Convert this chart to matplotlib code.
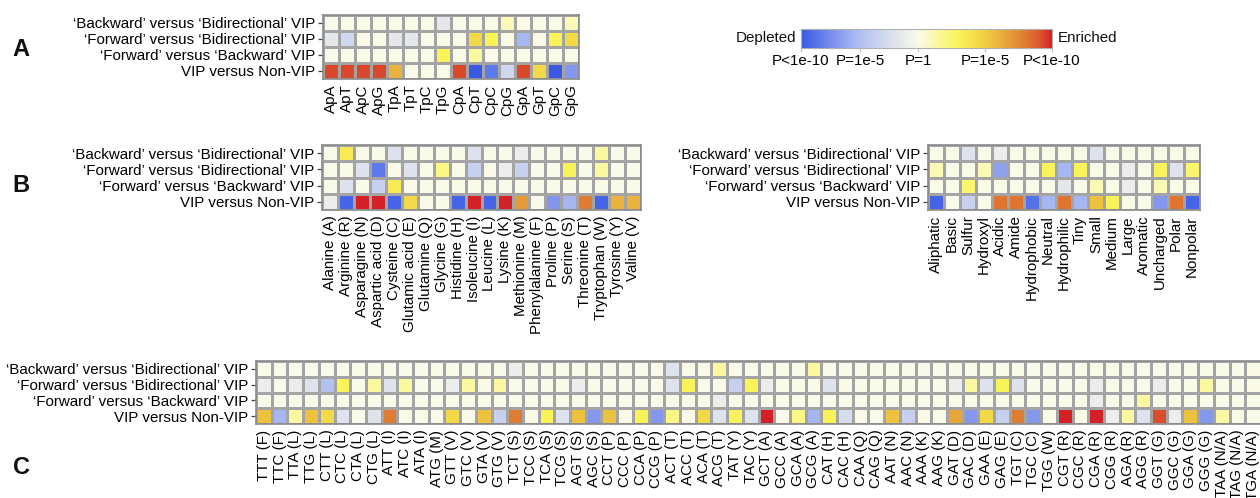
import numpy as np
import matplotlib.pyplot as plt
from matplotlib.colors import LinearSegmentedColormap, FuncNorm

plt.rcParams['font.family'] = ['Liberation Sans', 'DejaVu Sans']
plt.rcParams['font.size'] = 10.9
plt.rcParams['text.color'] = '#111111'

# comparison rows (top to bottom)
comparisons = ['\u2018Backward\u2019 versus \u2018Bidirectional\u2019 VIP',
               '\u2018Forward\u2019 versus \u2018Bidirectional\u2019 VIP',
               '\u2018Forward\u2019 versus \u2018Backward\u2019 VIP',
               'VIP versus Non-VIP']

# signed -log10(P): negative = depleted, positive = enriched
dinucs = ['ApA', 'ApT', 'ApC', 'ApG', 'TpA', 'TpT', 'TpC', 'TpG',
          'CpA', 'CpT', 'CpC', 'CpG', 'GpA', 'GpT', 'GpC', 'GpG']
dinuc_bwd_bid = [0, 0, 0, 0, 0, 0, 0, -1.5, 0, 0, 0, 1, 0, 0, 0, 1]
dinuc_fwd_bid = [-1.5, -3, 0, 0, -1.5, -1.5, 0, 0, 0, 4.5, 3, 0, -5.5, 0, 3, 4.5]
dinuc_fwd_bwd = [0, 0, 0, 0, 0, 0, 0, 3, 0, 1.5, 0, 0, 0, 0, 0, 0]
dinuc_vip = [9.3, 9.3, 9.3, 9.3, 6, 0, 0, 0, 9.3, -10, -8.5, -3, 9.3, 4.5, -10, -7]

amino = ['Alanine (A)', 'Arginine (R)', 'Asparagine (N)', 'Aspartic acid (D)',
         'Cysteine (C)', 'Glutamic acid (E)', 'Glutamine (Q)', 'Glycine (G)',
         'Histidine (H)', 'Isoleucine (I)', 'Leucine (L)', 'Lysine (K)',
         'Methionine (M)', 'Phenylalanine (F)', 'Proline (P)', 'Serine (S)',
         'Threonine (T)', 'Tryptophan (W)', 'Tyrosine (Y)', 'Valine (V)']
aa_bwd_bid = [0, 3.5, 0, 0, -2, 0, 0, 0, 0, -2, 0, 0, -1, 0, 0, 0, 0, 1.5, 0, 0]
aa_fwd_bid = [0, 0, -2, -8.5, 0, -2, 0, 2, 0, -3.5, 0, -1, -3.5, 0, 0, 3, 0, 1.5, 0, 0]
aa_fwd_bwd = [0, -2, 0, -3.5, 3.5, 0, 0, 0, 0, 0, 0, 0, 0, 0, 0, 0, 0, 0, 0, 0]
aa_vip = [-1, -9.5, 10, 10, -9.5, 4.5, 0, 0, -9.5, 10, -9.5, 10, 7, 0, -7, -5.5, 8, -9.5, 6, 6]

props = ['Aliphatic', 'Basic', 'Sulfur', 'Hydroxyl', 'Acidic', 'Amide', 'Hydrophobic',
         'Neutral', 'Hydrophilic', 'Tiny', 'Small', 'Medium', 'Large', 'Aromatic',
         'Uncharged', 'Polar', 'Nonpolar']
prop_bwd_bid = [0, 0, -2, 0, -1, 0, 0, 0, 0, 0, -2, 0, 0, 0, 0, 0, 0]
prop_fwd_bid = [1, 0, 0, 1, -6.5, 0, 0, 3, -5.5, 3, 0, 0, -1, 0, 3, -2, 2.5]
prop_fwd_bwd = [0, 0, 2.5, 0, 0, 0, 0, 0, -1.5, 0, 1, 0, -1, 0, 1, 0, 0]
prop_vip = [-9.5, 0, -3.5, 0, 8.2, 8.2, -8.8, -5.5, 8.2, -5.5, 5.5, 3, 0, 0, -7, 8.2, -9.5]

codons = ['TTT (F)', 'TTC (F)', 'TTA (L)', 'TTG (L)', 'CTT (L)', 'CTC (L)', 'CTA (L)',
          'CTG (L)', 'ATT (I)', 'ATC (I)', 'ATA (I)', 'ATG (M)', 'GTT (V)', 'GTC (V)',
          'GTA (V)', 'GTG (V)', 'TCT (S)', 'TCC (S)', 'TCA (S)', 'TCG (S)', 'AGT (S)',
          'AGC (S)', 'CCT (P)', 'CCC (P)', 'CCA (P)', 'CCG (P)', 'ACT (T)', 'ACC (T)',
          'ACA (T)', 'ACG (T)', 'TAT (Y)', 'TAC (Y)', 'GCT (A)', 'GCC (A)', 'GCA (A)',
          'GCG (A)', 'CAT (H)', 'CAC (H)', 'CAA (Q)', 'CAG (Q)', 'AAT (N)', 'AAC (N)',
          'AAA (K)', 'AAG (K)', 'GAT (D)', 'GAC (D)', 'GAA (E)', 'GAG (E)', 'TGT (C)',
          'TGC (C)', 'TGG (W)', 'CGT (R)', 'CGC (R)', 'CGA (R)', 'CGG (R)', 'AGA (R)',
          'AGG (R)', 'GGT (G)', 'GGC (G)', 'GGA (G)', 'GGG (G)', 'TAA (N/A)',
          'TAG (N/A)', 'TGA (N/A)']
codon_bwd_bid = [0, 0, 0, 0, 0, 0, 0, 0, 0, 0, 0, 0, 0, 0, 0, 0,
                 -1, 0, 0, 0, 0, 0, 0, 0, 0, 0, -2, 0, 0, 1.5, 0, 0,
                 0, 0, 0, 1.5, 0, 0, 0, 0, 0, 0, 0, 0, 0, 0, 0, 0,
                 0, 0, 0, 0, 0, 0, 0, 0, 0, 0, 0, 0, 0, 0, 0, 0]
codon_fwd_bid = [-1, 0, -1, -2, -5, 3, 0, 1.5, -2, 1.5, 0, 0, -1, 1.5, 0, 1.5,
                 0, 0, 0, 0, -1, 0, 0, 0, 0, 0, -2, 3, 0, 0, -3.5, 3,
                 -1, 0, 0, 0, -2, 0, 0, 0, 0, 0, 0, 0, -1, 1.5, -2, 3,
                 -2, 0, 0, 0, 0, -1, 0, 0, 0, -1, 0, 0, 1.5, 0, 0, 0]
codon_fwd_bwd = [0, 0, 0, 0, 0, 0, 0, 0, 0, 0, 0, 0, 0, 0, 0, 0,
                 0, 0, 0, 0, 0, 0, 0, 0, 0, 0, 0, 0, 0, -1, 0, 0,
                 0, 0, 0, 0, 0, 0, 0, 0, 0, 0, 0, 0, 0, 0, 0, 0,
                 0, 0, 0, 0, 0, -1, 0, 0, 1.5, 0, 0, 0, 0, 0, 0, 0]
codon_vip = [5.5, -5.5, 1.5, 5.5, 4.5, -2, 0, -2, 8, 0, 0, 0, 4.5, 0, 5.5, -3.5,
             8, 0, 3, -2, 5.5, -7, 5.5, 0, 3, -7, 2, 0, 4.5, -2, 3, -2,
             10, 0, 2, -5.5, 3, -2.5, 0, 0, 5.5, -3.5, 0, 0, 6.5, -7, 4.5, -3.5,
             8, -7, 0, 10, 0, 10, -1, 1.5, -2, 9.2, -1, 5.5, -7, 1.5, 0, 0]

# colour scale: blue (depleted) - cream (P=1) - yellow - red (enriched)
p_ticks = [-10, -5, 0, 5, 10]
p_pos = [0, 0.235, 0.467, 0.733, 1]
norm = FuncNorm((lambda v: np.interp(v, p_ticks, p_pos),
                 lambda u: np.interp(u, p_pos, p_ticks)), vmin=-10, vmax=10)
cmap = LinearSegmentedColormap.from_list('dep_enr', [
    (0.0, '#3a5ae6'), (0.235, '#b2c0f2'), (0.467, '#fafae8'),
    (0.62, '#faf65c'), (0.733, '#f0d042'), (0.87, '#e08a32'),
    (0.95, '#dc5a2e'), (1.0, '#d42027')])

W, H = 1260, 498
fig = plt.figure(figsize=(W / 100, H / 100), dpi=100)


def box(x0, y0, x1, y1):
    return [x0 / W, 1 - y1 / H, (x1 - x0) / W, (y1 - y0) / H]


def heat(rect, labels, rows):
    ax = fig.add_axes(box(*rect))
    z = np.array(rows, dtype=float)
    ax.pcolormesh(z, cmap=cmap, norm=norm, edgecolors='#a4a4a4', linewidth=0.9)
    ax.set_xlim(0, z.shape[1])
    ax.set_ylim(z.shape[0], 0)
    ax.set_yticks(np.arange(z.shape[0]) + 0.5, comparisons)
    ax.set_xticks(np.arange(z.shape[1]) + 0.5, labels, rotation=90)
    ax.tick_params(axis='y', length=3.5, width=0.9, color='#444444', pad=2)
    ax.tick_params(axis='x', length=0, pad=4)
    for s in ax.spines.values():
        s.set_color('#8a8a8a')
        s.set_linewidth(1.2)
    return ax


heat((323, 15, 579, 79), dinucs, [dinuc_bwd_bid, dinuc_fwd_bid, dinuc_fwd_bwd, dinuc_vip])
heat((322, 145, 641, 210), amino, [aa_bwd_bid, aa_fwd_bid, aa_fwd_bwd, aa_vip])
heat((928, 145, 1200, 210), props, [prop_bwd_bid, prop_fwd_bid, prop_fwd_bwd, prop_vip])
heat((256, 361, 1261, 424), codons, [codon_bwd_bid, codon_fwd_bid, codon_fwd_bwd, codon_vip])

# colour bar
cax = fig.add_axes(box(801, 29, 1052, 48))
sm = plt.cm.ScalarMappable(norm=norm, cmap=cmap)
cb = fig.colorbar(sm, cax=cax, orientation='horizontal', ticks=p_ticks)
cb.set_ticklabels(['P<1e-10', 'P=1e-5', 'P=1', 'P=1e-5', 'P<1e-10'])
cb.outline.set_edgecolor('#b0b0b0')
cax.tick_params(length=3, width=0.8, color='#c0c0c0', pad=1.5)
cax.minorticks_off()
fig.text(796 / W, 1 - 38 / H, 'Depleted', ha='right', va='center')
fig.text(1058 / W, 1 - 38 / H, 'Enriched', ha='left', va='center')

# panel letters
for letter, y in [('A', 50), ('B', 185), ('C', 467)]:
    fig.text(21 / W, 1 - y / H, letter, fontsize=17, fontweight='bold',
             ha='center', va='center')

fig.savefig('out.png', dpi=100)
